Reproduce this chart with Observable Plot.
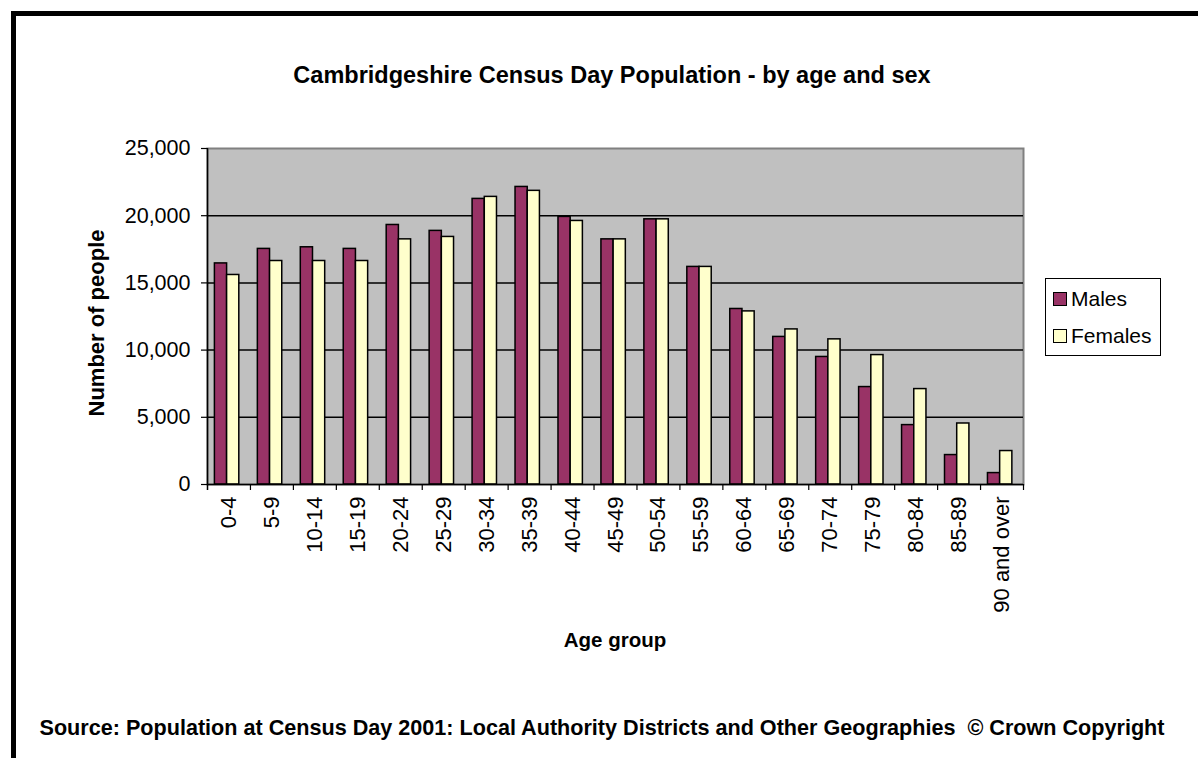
<!DOCTYPE html>
<html><head><meta charset="utf-8">
<script src="https://cdn.jsdelivr.net/npm/d3@7"></script>
<script src="https://cdn.jsdelivr.net/npm/@observablehq/plot@0.6"></script>
<style>
body{margin:0;background:#fff;font-family:"Liberation Sans",Arial,sans-serif;color:#000;}
#wrap{position:relative;width:1198px;height:758px;overflow:hidden;background:#fff;}
#wrap svg{position:absolute;left:0;top:0;}
.abs{position:absolute;white-space:pre;}
#title{left:612px;top:75px;transform:translate(-50%,-50%);font-weight:bold;font-size:23.5px;}
#ylab{left:97px;top:323px;transform:translate(-50%,-50%) rotate(-90deg);font-weight:bold;font-size:22px;}
#xlab{left:615px;top:640px;transform:translate(-50%,-50%);font-weight:bold;font-size:20.5px;}
#caption{left:602px;top:728px;transform:translate(-50%,-50%);font-weight:bold;font-size:21.6px;}
#frameTop{left:11px;top:11px;width:1200px;height:5px;background:#000;}
#frameLeft{left:11px;top:11px;width:5px;height:760px;background:#000;}
#legend{left:1045px;top:278px;width:114px;height:76px;border:1px solid #000;background:#fff;}
.li{position:absolute;left:7px;font-size:21px;line-height:21px;}
.sw{display:inline-block;width:12px;height:12px;border:1.5px solid #000;vertical-align:middle;margin-right:4px;position:relative;top:-1px;}
</style></head><body>
<div id="wrap"></div>
<script>
const ageGroups = ["0-4","5-9","10-14","15-19","20-24","25-29","30-34","35-39","40-44","45-49","50-54","55-59","60-64","65-69","70-74","75-79","80-84","85-89","90 and over"];
const males   = [16450,17530,17650,17530,19310,18870,21250,22140,19910,18240,19730,16190,13060,10980,9490,7250,4420,2190,850];
const females = [15590,16630,16630,16630,18240,18420,21400,21850,19610,18240,19730,16190,12880,11540,10800,9630,7100,4540,2490];
const seriesNames = ["Males","Females"];
const seriesColors = ["#993366","#FFFFCC"];
const yTicks = [0,5000,10000,15000,20000,25000];
const titleText = "Cambridgeshire Census Day Population - by age and sex";
const yLabel = "Number of people";
const xLabel = "Age group";
const captionText = "Source: Population at Census Day 2001: Local Authority Districts and Other Geographies  \u00A9 Crown Copyright";

const W = 1198, H = 758, ml = 207, mr = 175, mt = 148, mb = 274;
const plotH = H - mt - mb;
const bw = (W - ml - mr) / ageGroups.length;
const rows = ageGroups.flatMap((a, i) => [
  {age: a, sex: seriesNames[0], value: males[i]},
  {age: a, sex: seriesNames[1], value: females[i]}
]);
const bar0 = 7.4, barW = 12.2;

const chart = Plot.plot({
  width: W, height: H,
  marginLeft: ml, marginRight: mr, marginTop: mt, marginBottom: mb,
  style: {fontFamily: "Liberation Sans, Arial, sans-serif", fontSize: "21px", color: "#000", background: "transparent", overflow: "visible"},
  x: {type: "band", domain: ageGroups, padding: 0, round: false},
  y: {domain: [0, 25000]},
  color: {domain: seriesNames, range: seriesColors},
  marks: [
    Plot.frame({fill: "#c0c0c0", stroke: "#808080", strokeWidth: 2}),
    Plot.ruleY(yTicks.filter(d => d > 0 && d < 25000), {stroke: "#000", strokeWidth: 1.5}),
    Plot.barY(rows.filter(d => d.sex === seriesNames[0]), {x: "age", y: "value", fill: "sex", stroke: "#000", strokeWidth: 1.5, insetLeft: bar0, insetRight: bw - bar0 - barW}),
    Plot.barY(rows.filter(d => d.sex === seriesNames[1]), {x: "age", y: "value", fill: "sex", stroke: "#000", strokeWidth: 1.5, insetLeft: bar0 + barW, insetRight: bw - bar0 - 2 * barW}),
    Plot.ruleY([0], {stroke: "#000", strokeWidth: 1.5}),
    Plot.ruleX([ageGroups[0]], {dx: -bw / 2, stroke: "#000", strokeWidth: 1.5, insetBottom: -6}),
    Plot.ruleX(ageGroups.slice(1), {dx: -bw / 2, stroke: "#000", strokeWidth: 1.2, insetTop: plotH, insetBottom: -6}),
    Plot.ruleX([ageGroups[ageGroups.length - 1]], {dx: bw / 2, stroke: "#000", strokeWidth: 1.2, insetTop: plotH, insetBottom: -6}),
    Plot.axisY({ticks: yTicks, tickFormat: d3.format(","), tickSize: 6, tickPadding: 11, label: null, fontSize: 21.5, strokeWidth: 1.2}),
    Plot.axisX({tickSize: 0, tickRotate: -90, tickPadding: 12, label: null, fontSize: 22})
  ]
});
const wrap = document.getElementById("wrap");
wrap.appendChild(chart);

function addDiv(id, text) {
  const d = document.createElement("div");
  d.className = "abs"; d.id = id; d.textContent = text || "";
  wrap.appendChild(d); return d;
}
addDiv("frameTop"); addDiv("frameLeft");
addDiv("title", titleText);
addDiv("ylab", yLabel);
addDiv("xlab", xLabel);
addDiv("caption", captionText);
const lg = addDiv("legend");
seriesNames.forEach((s, i) => {
  const it = document.createElement("div");
  it.className = "li"; it.style.top = (9 + i * 37) + "px";
  const sw = document.createElement("span"); sw.className = "sw"; sw.style.background = seriesColors[i];
  it.appendChild(sw); it.appendChild(document.createTextNode(s));
  lg.appendChild(it);
});
</script>
</body></html>
